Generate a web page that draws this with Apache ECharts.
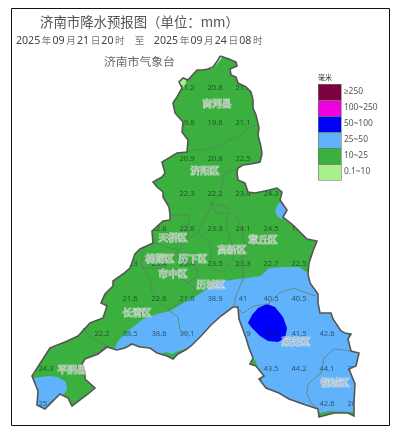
<!DOCTYPE html>
<html><head><meta charset="utf-8">
<style>html,body{margin:0;padding:0;background:#fff}#c{width:402px;height:433px;filter:blur(0.35px)}</style>
<script src="https://cdn.jsdelivr.net/npm/echarts@6/dist/echarts.min.js"></script>
</head><body><div id="c"></div>
<script>
// Map geometry, as [x, y] in trace units (y grows downward)
const cityOutline = [[220,56],[229,59],[236,62],[237,66],[230,69],[231,75],[236,77],[238,83],[246,87],[251,92],[253,100],[253,108],[256,115],[259,128],[258,135],[261,147],[262,154],[260,162],[251,164],[243,165],[238,168],[237,172],[238,180],[245,183],[248,192],[255,193],[265,191],[277,188],[282,192],[280,200],[287,210],[283,217],[293,225],[300,232],[307,239],[317,241],[313,251],[309,263],[308,274],[310,283],[318,294],[318,303],[320,313],[331,313],[333,319],[341,331],[345,333],[351,334],[348,339],[351,351],[359,353],[356,366],[349,369],[355,384],[354,403],[354,416],[348,413],[334,413],[319,417],[318,409],[303,404],[289,399],[279,393],[266,388],[259,379],[264,376],[256,366],[250,364],[253,358],[249,348],[246,338],[239,319],[238,307],[233,307],[221,316],[211,325],[201,336],[192,345],[187,349],[178,354],[173,359],[167,356],[157,353],[150,348],[140,347],[132,344],[125,348],[117,350],[107,347],[98,354],[85,359],[82,364],[85,373],[85,379],[95,388],[88,394],[72,406],[68,398],[60,394],[45,409],[37,405],[38,391],[32,376],[50,348],[65,342],[78,336],[90,323],[103,318],[107,306],[101,303],[105,294],[113,286],[113,281],[123,274],[130,268],[135,254],[140,249],[153,243],[152,231],[163,221],[170,220],[170,215],[169,207],[163,197],[163,192],[157,187],[153,182],[162,177],[165,173],[162,162],[177,153],[187,152],[188,140],[182,132],[183,122],[175,113],[173,103],[177,97],[182,88],[179,82],[183,78],[188,80],[197,70],[202,70],[208,69],[213,67],[218,60],[220,56]];
const districtLines = [
  [[187,152],[200,149],[210,150],[220,145],[230,140],[240,135],[248,128],[255,125]],
  [[238,168],[223,175],[222,187],[217,197],[212,203],[205,220],[198,232],[188,240]],
  [[170,215],[180,215],[189,215],[188,225],[188,240],[178,250],[170,248],[160,244],[153,243]],
  [[210,203],[227,207],[230,213],[238,218],[242,232],[245,247],[242,260],[243,268],[243,279],[236,296],[234,306]],
  [[212,203],[215,213],[227,213],[227,230],[233,247],[233,260],[243,268]],
  [[198,232],[206,240],[212,248],[210,262],[214,270],[222,272],[233,260]],
  [[142,250],[142,267],[150,278],[152,293],[168,310],[178,317],[180,330],[188,337]],
  [[143,268],[162,268],[180,278],[188,283],[197,290],[185,300],[168,310]],
  [[162,268],[170,258],[178,250],[186,262],[196,266],[198,276],[188,283]],
  [[83,328],[92,338],[108,346]],
  [[234,306],[243,313],[254,306],[268,304],[279,293],[294,288],[301,291],[316,296]],
  [[351,351],[334,349],[324,358],[321,373],[308,384],[307,393],[311,403],[318,409]]
];
const pageRect = [[0,0],[402,0],[402,433],[0,433],[0,0]];
const greenRect = [[25,56],[370,56],[370,425],[25,425],[25,56]];
const lightPatches = [
  [[176,76],[186,78],[186,83],[183,88],[176,88],[176,76]],
  [[212,69],[217,64],[222,58],[222,56],[214,56],[206,66],[212,69]],
  [[46,351],[52,348],[58,346],[58,344],[46,346],[46,351]]
];
const bluePatches = [
  [[113,352],[118,341],[128,331],[143,319],[157,314],[170,311],[180,305],[195,297],[213,285],[224,281],[238,279],[261,276],[269,268],[284,267],[299,267],[308,273],[330,290],[369,350],[365,412],[348,412],[330,411],[319,413],[300,420],[262,400],[262,372],[257,367],[256,361],[252,358],[240,350],[225,340],[200,345],[178,351],[172,354],[166,352],[150,358],[125,358],[113,352]],
  [[28,378],[35,378],[48,376],[58,377],[66,382],[67,390],[62,396],[55,398],[48,404],[47,412],[30,412],[28,378]],
  [[281,202],[278,204],[275,211],[277,216],[281,219],[292,215],[292,203],[281,202]]
];
const darkBluePatches = [
  [[267,304],[275,307],[283,317],[287,328],[285,338],[278,342],[268,341],[260,336],[252,328],[248,323],[252,315],[258,308],[267,304]]
];

// Forecast rainfall at the grid stations (mm)
const stationX = [187,215,243, 187,215,243, 187,215,243, 187,215,243,271, 159,187,215,243,271,299, 130,159,187,215,243,271,299, 130,159,187,215,243,271,299, 102,130,159,187,243,271,299,327,355, 46,271,299,327,355, 46,327,355];
const stationY = [88,88,88, 123,123,123, 159,159,159, 194,194,194,194, 229,229,229,229,229,229, 264,264,264,264,264,264,264, 299,299,299,299,299,299,299, 334,334,334,334,334,334,334,334,334, 369,369,369,369,369, 404,404,404];
const stationRain = ['21.2','20.8','21.3','19.8','19.8','21.1','20.9','20.8','22.5','22.3','22.2','23.4','24.3','22.8','22.8','23.3','24.1','24.5','19.6','22.3','23.4','23.4','23.5','23.3','22.7','22.5','21.6','22.6','21.8','38.9','41','40.5','40.5','22.2','38.5','38.6','39.1','39.9','51.8','41.5','42.6','43.2','24.3','43.5','44.2','44.1','26.4','25.4','42.6','26.1'];

const districtNames = ['商河县','济阳区','天桥区','槐荫区','历下区','市中区','历城区','长清区','平阴县','莱芜区','钢城区','章丘区','高新区'];
const districtX = [217,205,173,160,193,173,211,137,72,296,335,263,232];
const districtY = [103,170,237,258,258,273,284,312,369,341,382,239,249];

const legendLabels = ['≥250','100~250','50~100','25~50','10~25','0.1~10'];
const legendColors = ['#7d0040','#f000e0','#0000ff','#60b2fb','#3cb03f','#a8f08c'];
const legendMin = [250,100,50,25,10,0.1];
const legendMax = [Infinity,250,100,50,25,10];

const bandNames = ['green','light','blue','darkblue'];
const bandRain = [15,5,35,75];

const flip = ring => ring.map(p => [p[0], -p[1]]);
const feature = (name, rings) => ({type:'Feature',properties:{name},geometry:{type:'MultiPolygon',coordinates:rings.map(r=>[flip(r)])}});
// The mask is one ring: page edge, a slit down to the outline's top point, then back round the outline.
const maskRing = [[220,0],[402,0],[402,433],[0,433],[0,0],[220,0]].concat(cityOutline.slice().reverse(),[[220,0]]);
echarts.registerMap('rainBands',{type:'FeatureCollection',features:[
  feature('page',[pageRect]),
  feature('green',[greenRect]),
  feature('light',lightPatches),
  feature('blue',bluePatches),
  feature('darkblue',darkBluePatches)
]});
echarts.registerMap('cityMask',{type:'FeatureCollection',features:[feature('mask',[maskRing])]});

const chart = echarts.init(document.getElementById('c'),null,{renderer:'canvas'});
const box = {left:0,top:0,width:402,height:433};
const SANS = '"Noto Sans CJK SC","Noto Sans",sans-serif';
const legendTop = 84, legendStep = 16;

const dateStyles = {
  d:{fontSize:10.6,fontWeight:'normal',color:'#444',fontFamily:'"Noto Sans",sans-serif'},
  c:{fontSize:9.6,fontWeight:'normal',color:'#777',fontFamily:SANS,padding:[0,1.1,0,1.6]},
  s:{fontSize:9.6,fontWeight:'normal',color:'#777',fontFamily:SANS,padding:[0,9.5,0,9]}
};
const subtitle = '{d|2025}{c|年}{d|09}{c|月}{d|21}{c|日}{d|20}{c|时}{s|至}{d|2025}{c|年}{d|09}{c|月}{d|24}{c|日}{d|08}{c|时}';

chart.setOption({
  animation:false,
  backgroundColor:'#fff',
  title:[
    {text:'济南市降水预报图（单位：mm）',left:40,top:15,padding:0,textStyle:{fontSize:13.4,fontWeight:'normal',color:'#555',fontFamily:SANS}},
    {text:subtitle,left:16,top:35,padding:0,textStyle:{rich:dateStyles,fontWeight:'normal'}},
    {text:'济南市气象台',left:104,top:56,padding:0,textStyle:{fontSize:11.8,fontWeight:'normal',color:'#666',fontFamily:SANS}}
  ],
  geo:{map:'cityMask',...box,aspectScale:1,roam:false,silent:true,z:3,
    itemStyle:{areaColor:'#fff',borderWidth:0},
    emphasis:{disabled:true},select:{disabled:true},label:{show:false}},
  visualMap:{type:'piecewise',seriesIndex:0,left:318,top:legendTop,padding:0,itemWidth:23,itemHeight:legendStep,itemGap:0,textGap:3,itemSymbol:'rect',
    selectedMode:false,showLabel:true,align:'left',
    outOfRange:{color:'rgba(0,0,0,0)'},
    textStyle:{fontSize:8.4,color:'#555',fontFamily:'"Noto Sans",sans-serif'},
    pieces:legendLabels.map((label,i)=>({label,color:legendColors[i],min:legendMin[i],...(isFinite(legendMax[i])?{max:legendMax[i]}:{})}))},
  graphic:[
    {type:'rect',z:100,shape:{x:11.5,y:8.5,width:378,height:417},style:{fill:'none',stroke:'#111',lineWidth:1}},
    {type:'text',z:100,x:318,y:74,style:{text:'毫米',fontSize:7,fill:'#333',fontFamily:SANS}},
    ...legendLabels.map((l,i)=>({type:'rect',z:100,shape:{x:318.5,y:legendTop+i*legendStep+0.5,width:23,height:legendStep},style:{fill:'none',stroke:'#6b7a6b',lineWidth:0.6}}))
  ],
  series:[
    {type:'map',map:'rainBands',...box,aspectScale:1,roam:false,silent:true,z:1,
      itemStyle:{borderWidth:0,areaColor:'rgba(0,0,0,0)'},label:{show:false},emphasis:{disabled:true},select:{disabled:true},
      data:bandNames.map((name,i)=>({name,value:bandRain[i]}))},
    {type:'scatter',coordinateSystem:'geo',geoIndex:0,z:2,silent:true,symbolSize:0,
      label:{show:true,position:'inside',fontSize:7.6,color:'rgba(10,30,30,0.8)',fontFamily:'"Noto Sans",sans-serif',formatter:p=>p.value[2]},
      data:stationRain.map((v,i)=>[stationX[i],-stationY[i],v])},
    {type:'lines',coordinateSystem:'geo',geoIndex:0,polyline:true,z:4,silent:true,
      lineStyle:{color:'#5c7a66',width:0.7,opacity:1,curveness:0},
      data:districtLines.map(l=>({coords:flip(l)}))},
    {type:'lines',coordinateSystem:'geo',geoIndex:0,polyline:true,z:4,silent:true,
      lineStyle:{color:'#555',width:1.6,opacity:1,curveness:0},
      data:[{coords:flip(cityOutline)}]},
    {type:'scatter',coordinateSystem:'geo',geoIndex:0,z:5,silent:true,symbolSize:0,
      label:{show:true,position:'inside',fontSize:9.6,color:'#a0a0a0',textBorderColor:'rgba(255,255,255,0.85)',textBorderWidth:1.1,fontFamily:SANS,formatter:p=>p.value[2]},
      data:districtNames.map((v,i)=>[districtX[i],-districtY[i],v])}
  ]
});
</script></body></html>
